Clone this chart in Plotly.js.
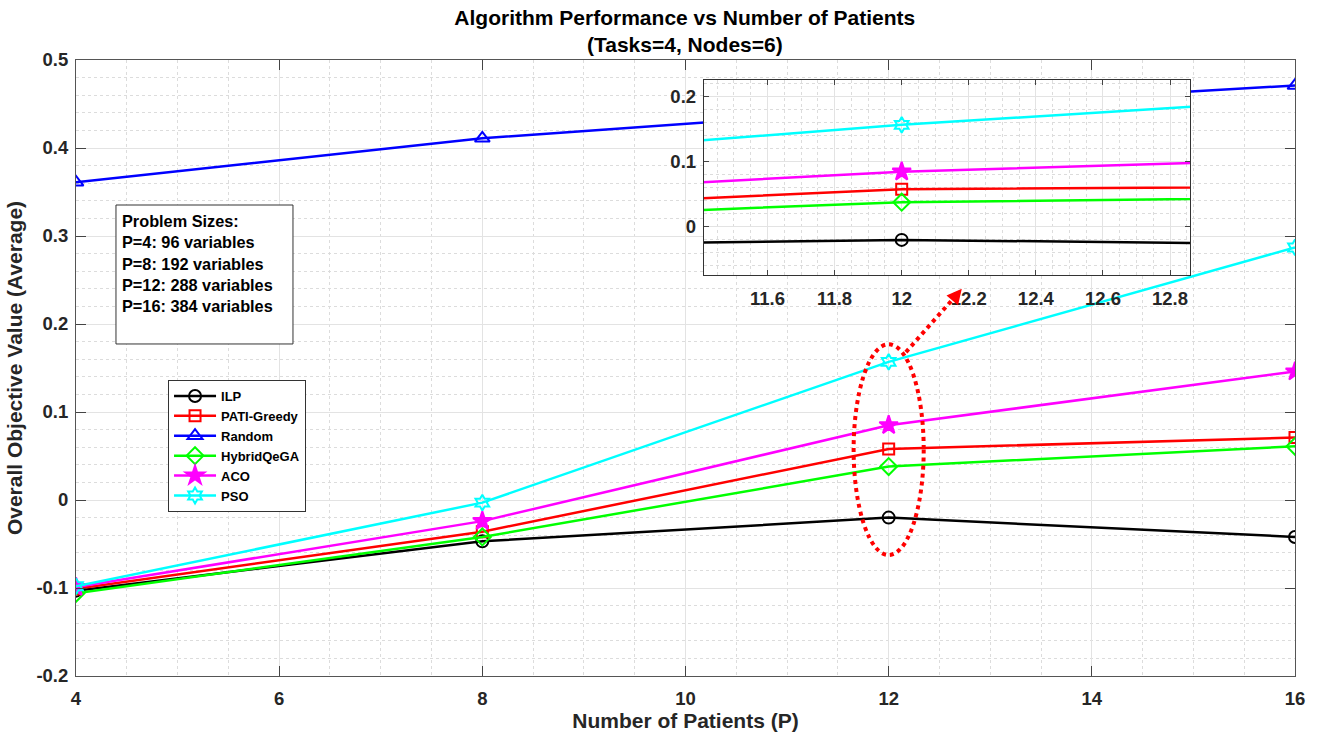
<!DOCTYPE html>
<html>
<head>
<meta charset="utf-8">
<script src="https://cdn.plot.ly/plotly-3.0.1.min.js"></script>
<style>html,body{margin:0;padding:0;background:#fff;}#chart{width:1317px;height:739px;}</style>
</head>
<body>
<div id="chart"></div>
<script>
const patients = [4, 8, 12, 16];
const ilp = [-0.103, -0.047, -0.020, -0.042];
const patiGreedy = [-0.101, -0.036, 0.058, 0.071];
const randomAlg = [0.361, 0.411, 0.444, 0.471];
const hybridQeGA = [-0.106, -0.042, 0.038, 0.061];
const aco = [-0.099, -0.024, 0.085, 0.146];
const pso = [-0.098, -0.003, 0.157, 0.287];
const seriesNames = ['ILP', 'PATI-Greedy', 'Random', 'HybridQeGA', 'ACO', 'PSO'];
const problemLines = ['Problem Sizes:', 'P=4: 96 variables', 'P=8: 192 variables', 'P=12: 288 variables', 'P=16: 384 variables'];

const FONT = 'Liberation Sans, Arial, sans-serif';
const series = [
  {y: ilp, color: '#000000', symbol: 'circle-open', size: 12},
  {y: patiGreedy, color: '#FF0000', symbol: 'square-open', size: 11},
  {y: randomAlg, color: '#0000FF', symbol: 'triangle-up-open', size: 13},
  {y: hybridQeGA, color: '#00FF00', symbol: 'diamond-open', size: 13},
  {y: aco, color: '#FF00FF', symbol: 'star', size: 14},
  {y: pso, color: '#00FFFF', symbol: 'hexagram-open', size: 12}
];

const traces = [];
series.forEach((s, i) => {
  traces.push({
    x: patients, y: s.y, name: seriesNames[i], type: 'scatter', mode: 'lines+markers',
    line: {color: s.color, width: 2.5},
    marker: {symbol: s.symbol, size: s.size, color: s.color, line: {color: s.color, width: 2}},
    xaxis: 'x', yaxis: 'y'
  });
});
series.forEach((s, i) => {
  traces.push({
    x: patients, y: s.y, name: seriesNames[i], type: 'scatter', mode: 'lines+markers',
    line: {color: s.color, width: 2.5},
    marker: {symbol: s.symbol, size: s.size, color: s.color, line: {color: s.color, width: 2}},
    xaxis: 'x2', yaxis: 'y2', showlegend: false
  });
});

const tickFont = {family: FONT, size: 18.5, color: '#262626', weight: 'bold'};
const axisCommon = {
  showline: true, linecolor: '#555', linewidth: 1, mirror: 'ticks',
  ticks: 'inside', ticklen: 10, tickcolor: '#444', tickwidth: 1,
  showgrid: true, gridcolor: '#e3e3e3', gridwidth: 1,
  zeroline: false, tickfont: tickFont
};

const annotations = problemLines.map((t, i) => ({
  xref: 'paper', yref: 'paper', x: 0.036, y: 0.739 - i * 0.0347,
  xanchor: 'left', yanchor: 'middle', showarrow: false, text: t,
  font: {family: FONT, size: 16.3, color: '#000', weight: 'bold'}
}));
annotations.push({
  xref: 'x', yref: 'y', axref: 'x', ayref: 'y',
  x: 12.72, y: 0.240, ax: 12.62, ay: 0.226, text: '', showarrow: true,
  arrowhead: 2, arrowsize: 1, arrowwidth: 3, arrowcolor: '#FF0000'
});

const layout = {
  width: 1317, height: 739,
  margin: {l: 76, r: 22, t: 60, b: 63},
  paper_bgcolor: '#ffffff', plot_bgcolor: '#ffffff',
  font: {family: FONT, color: '#000'},
  title: {
    text: 'Algorithm Performance vs Number of Patients<br>(Tasks=4, Nodes=6)',
    font: {family: FONT, size: 21, color: '#000', weight: 'bold'},
    x: 0.52, xanchor: 'center', y: 0.966, yanchor: 'top'
  },
  xaxis: Object.assign({}, axisCommon, {
    domain: [0, 1], range: [4, 16], tickvals: [4, 6, 8, 10, 12, 14, 16], anchor: 'y',
    ticklabelstandoff: 6,
    minor: {dtick: 0.5, showgrid: true, griddash: 'dot', gridcolor: '#dcdcdc', gridwidth: 1, ticks: ''},
    title: {text: 'Number of Patients (P)', font: {family: FONT, size: 21, color: '#262626', weight: 'bold'}, standoff: 5}
  }),
  yaxis: Object.assign({}, axisCommon, {
    domain: [0, 1], range: [-0.2, 0.5], tickvals: [-0.2, -0.1, 0, 0.1, 0.2, 0.3, 0.4, 0.5],
    ticktext: ['-0.2', '-0.1', '0', '0.1', '0.2', '0.3', '0.4', '0.5'], anchor: 'x',
    ticklabelstandoff: 3,
    minor: {dtick: 0.02, showgrid: true, griddash: 'dot', gridcolor: '#dcdcdc', gridwidth: 1, ticks: ''},
    title: {text: 'Overall Objective Value (Average)', font: {family: FONT, size: 21, color: '#262626', weight: 'bold'}, standoff: 8}
  }),
  xaxis2: Object.assign({}, axisCommon, {
    domain: [0.515, 0.914], range: [11.41, 12.86], anchor: 'y2',
    tickvals: [11.6, 11.8, 12, 12.2, 12.4, 12.6, 12.8], ticktext: ['11.6', '11.8', '12', '12.2', '12.4', '12.6', '12.8'],
    linecolor: '#333', ticklen: 5, ticklabelstandoff: 7,
    minor: {dtick: 0.05, showgrid: true, griddash: 'dot', gridcolor: '#dcdcdc', gridwidth: 1, ticks: ''}
  }),
  yaxis2: Object.assign({}, axisCommon, {
    domain: [0.651, 0.9675], range: [-0.074, 0.226], anchor: 'x2',
    tickvals: [0, 0.1, 0.2], ticktext: ['0', '0.1', '0.2'],
    linecolor: '#333', ticklen: 5, ticklabelstandoff: 3,
    minor: {dtick: 0.02, showgrid: true, griddash: 'dot', gridcolor: '#dcdcdc', gridwidth: 1, ticks: ''}
  }),
  legend: {
    x: 0.0755, y: 0.4805, xanchor: 'left', yanchor: 'top',
    bgcolor: '#ffffff', bordercolor: '#333', borderwidth: 1,
    font: {family: FONT, size: 13, color: '#000', weight: 'bold'},
    tracegroupgap: 0, itemwidth: 42
  },
  shapes: [
    {type: 'rect', xref: 'paper', yref: 'paper', x0: 0.0328, x1: 0.178, y0: 0.539, y1: 0.7646,
     line: {color: '#333', width: 1}, fillcolor: '#ffffff', layer: 'above'},
    {type: 'circle', xref: 'x', yref: 'y', x0: 11.655, x1: 12.345, y0: -0.0625, y1: 0.177,
     line: {color: '#FF0000', width: 4, dash: 'dot'}},
    {type: 'line', xref: 'x', yref: 'y', x0: 12.17, y0: 0.168, x1: 12.66, y1: 0.232,
     line: {color: '#FF0000', width: 4, dash: 'dot'}}
  ],
  annotations: annotations,
  showlegend: true
};

Plotly.newPlot('chart', traces, layout, {displayModeBar: false, responsive: false});
</script>
</body>
</html>
